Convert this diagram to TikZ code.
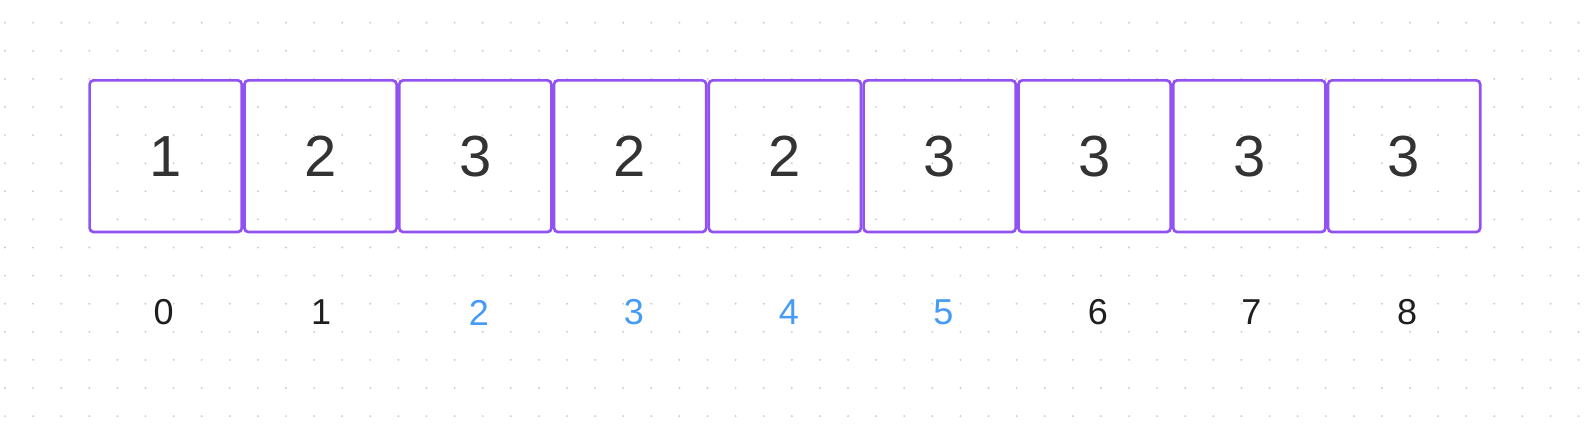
\documentclass[tikz,border=0pt]{standalone}
\usepackage{fontspec}
\setmainfont{Liberation Sans}
\definecolor{boxpurple}{RGB}{146,82,242}
\definecolor{digitgray}{RGB}{51,51,51}
\definecolor{idxblue}{RGB}{70,155,245}
\definecolor{idxblack}{RGB}{30,30,30}
\definecolor{dotgray}{RGB}{205,205,205}
\tikzset{
  cell/.style={draw=boxpurple, line width=2.7pt, rounded corners=4pt,
    minimum width=152.2pt, minimum height=151.7pt, inner sep=0pt,
    text=digitgray, font=\fontsize{58}{58}\selectfont},
  idx/.style={inner sep=0pt, font=\fontsize{36}{36}\selectfont, text=idxblack},
  hl/.style={text=idxblue},
}
\begin{document}
\begin{tikzpicture}[x=1pt,y=-1pt]
\useasboundingbox (0,0) rectangle (1594,442);
\foreach \i in {0,...,56}{
  \foreach \j in {0,...,14}{
    \fill[dotgray] (5+28.1*\i, 22.7+28.1*\j) circle (1.1pt);
  }
}
\foreach \v [count=\k from 0] in {1,2,3,2,2,3,3,3,3}{
  \node[cell] (c\k) at (165.7+154.8*\k, 156.2) {\v};
}
\node[idx] (i0) at (163.7,312.5) {0};
\node[idx] (i1) at (321.2,312.5) {1};
\node[idx,hl] (i2) at (478.8,312.5) {2};
\node[idx,hl] (i3) at (634.0,312.5) {3};
\node[idx,hl] (i4) at (788.9,312.5) {4};
\node[idx,hl] (i5) at (943.4,312.5) {5};
\node[idx] (i6) at (1097.9,312.5) {6};
\node[idx] (i7) at (1251.4,312.5) {7};
\node[idx] (i8) at (1407.0,312.5) {8};
\end{tikzpicture}
\end{document}
